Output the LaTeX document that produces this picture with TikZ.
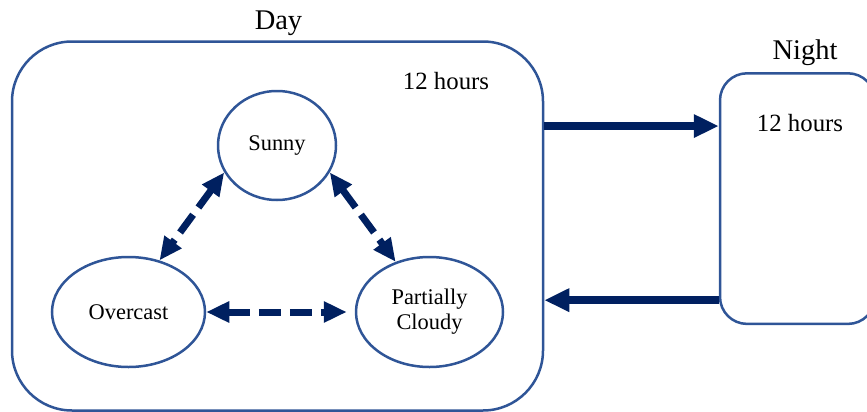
\documentclass[tikz,border=0pt]{standalone}
\usepackage{fontspec}
\setmainfont{Liberation Serif}
\usetikzlibrary{arrows.meta,shapes.geometric}
\definecolor{edgeblue}{HTML}{2F5597}
\definecolor{navy}{HTML}{002060}
\begin{document}
\begin{tikzpicture}[x=0.5pt,y=-0.5pt,
  weather/.style={ellipse,draw=edgeblue,line width=1.25pt,inner sep=0pt,align=center,
    font=\fontsize{11.2}{12.5}\selectfont},
  period/.style={rectangle,draw=edgeblue,line width=1.25pt,inner sep=0pt},
  daynight/.style={draw=navy,line width=4pt,-{Triangle[length=12.5pt,width=11pt]}},
  change/.style={draw=navy,line width=3.5pt,dash pattern=on 11pt off 4.5pt,
    {Triangle[length=11.5pt,width=10pt]}-{Triangle[length=11.5pt,width=10pt]}}]
\clip (0,0) rectangle (867,412);
% the two periods
\node[period,rounded corners=30pt,minimum width=265.5pt,minimum height=184.5pt] (day) at (277.5,226) {};
\node[period,rounded corners=13.5pt,minimum width=77.5pt,minimum height=125.3pt] (night) at (797.5,198.6) {};
\node[anchor=base,font=\fontsize{14.25}{16}\selectfont] (daylbl) at (278.5,29.5) {Day};
\node[anchor=base,font=\fontsize{14.25}{16}\selectfont] (nightlbl) at (805,59) {Night};
\node[anchor=base,font=\fontsize{12.4}{14}\selectfont] (dayhrs) at (446,89) {12 hours};
\node[anchor=base,font=\fontsize{12.4}{14}\selectfont] (nighthrs) at (800,131) {12 hours};
% weather states
\node[weather,minimum width=59pt,minimum height=54.5pt] (sunny) at (277,145.5) {\raisebox{-1.5pt}{Sunny}};
\node[weather,minimum width=76.5pt,minimum height=55pt] (overcast) at (128.5,312) {\raisebox{-1.5pt}{Overcast}};
\node[weather,minimum width=73.5pt,minimum height=55pt] (cloudy) at (429.5,312) {\raisebox{-2pt}{Partially}\\\raisebox{-2pt}{Cloudy}};
\draw[change] (sunny.207.9) -- (overcast.59.3);
\draw[change] (sunny.333.4) -- (cloudy.124.6);
\draw[change,shorten >=4pt] (overcast.east) -- (cloudy.west);
% day <-> night
\coordinate (fwd) at ([yshift=-27pt]night.north west);
\coordinate (back) at ([yshift=12.5pt]night.south west);
\draw[daynight] (fwd -| day.east) -- (fwd);
\draw[daynight] (back) -- (back -| day.east);
\end{tikzpicture}
\end{document}
